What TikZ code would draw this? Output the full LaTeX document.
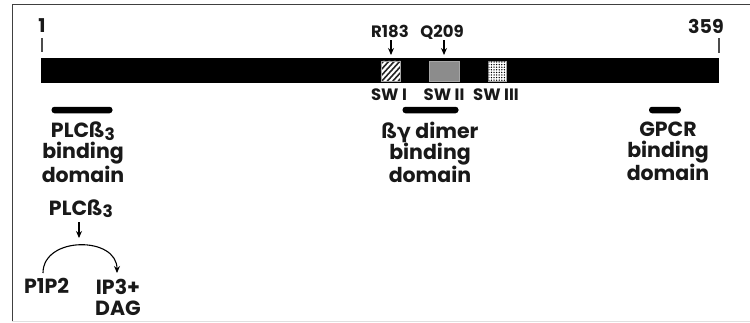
\documentclass[tikz,border=0pt]{standalone}
\usepackage{fontspec}
\setmainfont{Poppins}
\newfontfamily\grk{DejaVu Sans}
\usetikzlibrary{arrows.meta,patterns.meta}
\newcommand{\sub}[1]{\smash{\raisebox{-0.12em}{\fontsize{17}{17}\selectfont #1}}}
\tikzset{
  lbl/.style={font=\bfseries\fontsize{20.5}{21}\selectfont, inner sep=0pt, align=center, text=black!90},
  num/.style={font=\bfseries\fontsize{19}{20}\selectfont, inner sep=0pt, text=black!90},
  small/.style={font=\bfseries\fontsize{16.5}{17}\selectfont, inner sep=0pt, text=black!90},
  arr/.style={-{Stealth[length=7pt,width=6pt]}, line width=1.1pt},
  tick/.style={line width=1.2pt, black!70},
  dombar/.style={fill=black, rounded corners=3pt, minimum height=6.5pt, inner sep=0pt},
  swbox/.style={draw=black!35, line width=0.6pt, minimum height=20pt, inner sep=0pt},
}
\begin{document}
\begin{tikzpicture}[x=1pt,y=-1pt]
\useasboundingbox (0,0) rectangle (750,322);
% frame edges
\draw[line width=1.5pt, black!75] (750,4.5) -- (12.3,4.5) -- (12.3,322);
\draw[line width=0.8pt, black!12] (12.3,321.5) -- (750,321.5);

% residue numbering
\node[num, anchor=base] (n1) at (42,32) {1};
\node[num, anchor=base] (n359) at (706,33) {359};
\draw[tick] (42,38) -- (42,52);
\draw[tick] (719,38) -- (719,53);

% protein bar
\node[fill=black, minimum width=678pt, minimum height=25pt, inner sep=0pt, anchor=north west] (bar) at (41,58) {};

% switch regions
\node[swbox, minimum width=19pt, fill=white] (sw1) at (390.5,71) {};
\begin{scope}
  \clip (sw1.south west) rectangle (sw1.north east);
  \foreach \i in {-22,-16.5,...,22} \draw[line width=1.6pt, black!85] (381+\i,82) -- (401+\i,60);
\end{scope}
\node[swbox, minimum width=19pt] at (sw1) {};
\node[swbox, minimum width=30pt, fill=black!45] (sw2) at (444,71) {};
\node[swbox, minimum width=18pt, fill=white] (sw3) at (497,71) {};
\node[minimum width=17pt, minimum height=19pt, inner sep=0pt, pattern={Dots[distance=2.6pt,radius=0.75pt]}] (sw3dots) at (sw3) {};

% mutation sites
\node[small, anchor=base] (r183) at (390,37) {R183};
\node[small, anchor=base] (q209) at (442,37) {Q209};
\coordinate (r183tip) at (391,55);
\coordinate (q209tip) at (444,55);
\draw[arr] (391,40) -- (r183tip);
\draw[arr] (444,40) -- (q209tip);

% switch labels
\node[small, anchor=base] (swl1) at (389,100) {SW I};
\node[small, anchor=base] (swl2) at (444,100) {SW II};
\node[small, anchor=base] (swl3) at (496,100) {SW III};

% binding domains
\node[dombar, minimum width=61pt] (plcbar) at (82,110) {};
\node[dombar, minimum width=56pt] (bgbar) at (430.5,110) {};
\node[dombar, minimum width=32pt] (gpcrbar) at (665,110) {};

\node[lbl, anchor=north] (plcdom) at (83,122) {PLCß\sub{3}\\binding\\domain};
\node[lbl, anchor=north] (bgdom) at (430,122) {ß{\grk γ} dimer\\binding\\domain};
\node[lbl, anchor=north] (gpcrdom) at (668,122) {GPCR\\binding\\domain};

% PLC reaction
\node[lbl, anchor=base] (plc) at (81,215) {PLCß\sub{3}};
\coordinate (plctip) at (79,238);
\draw[arr] (79,222) -- (plctip);
\node[lbl, anchor=base] (p1p2) at (46.5,293) {P1P2};
\node[lbl, anchor=north] (ip3) at (118,279) {IP3+\\DAG};
\coordinate (cstart) at (43,273);
\coordinate (cend) at (117,273);
\draw[arr] (cstart) .. controls (43,236) and (117,236) .. (cend);
\end{tikzpicture}
\end{document}
